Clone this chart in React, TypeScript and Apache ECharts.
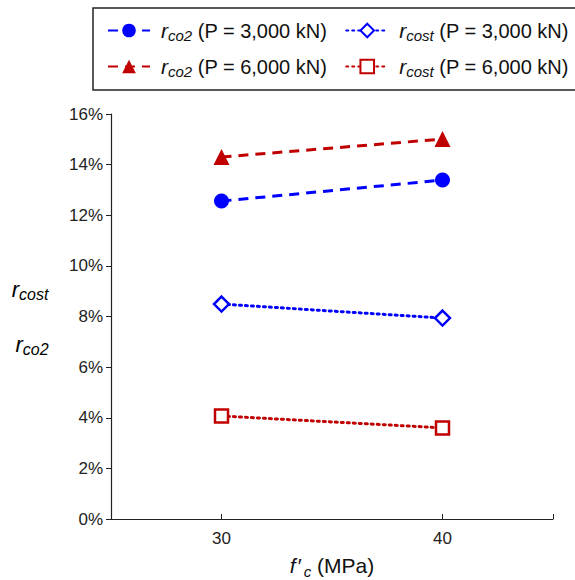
import React, { useEffect, useRef } from "react";
import * as echarts from "echarts";

const xValues = [30, 40];
const xLabelTicks = [30, 40];
const xTickValues = [30, 40, 45];
const rco2P3000 = [0.1256, 0.1339];
const rco2P6000 = [0.143, 0.1501];
const rcostP3000 = [0.0849, 0.0794];
const rcostP6000 = [0.0407, 0.036];

const BLUE = "#0000FF";
const RED = "#C00000";
const FONT = "Liberation Sans, Arial, Helvetica, sans-serif";

const legendNames: Record<string, string> = {
  a: "{r|r}{s|co2}{t| (P = 3,000 kN)}",
  b: "{r|r}{s|cost}{t| (P = 3,000 kN)}",
  c: "{r|r}{s|co2}{t| (P = 6,000 kN)}",
  d: "{r|r}{s|cost}{t| (P = 6,000 kN)}",
};

const richLegend = {
  r: { fontStyle: "italic", fontSize: 21, fontFamily: FONT, color: "#111", padding: [0, 0, 0, 6] },
  s: { fontStyle: "italic", fontSize: 15, fontFamily: FONT, color: "#111", padding: [9, 0, 0, 0], verticalAlign: "bottom" },
  t: { fontSize: 20, fontFamily: FONT, color: "#111" },
};

const richYName = {
  r: { fontStyle: "italic", fontSize: 22, fontFamily: FONT, color: "#111" },
  s: { fontStyle: "italic", fontSize: 16, fontFamily: FONT, color: "#111", padding: [11, 0, 0, 0], verticalAlign: "bottom" },
};

const pairs = (ys: number[]) => xValues.map((x, i) => [x, ys[i]]);

export default function App() {
  const ref = useRef<HTMLDivElement>(null);
  useEffect(() => {
    if (!ref.current) return;
    const chart = echarts.init(ref.current, null, { renderer: "svg" });
    const legendCommon = {
      orient: "horizontal" as const,
      itemWidth: 42,
      itemHeight: 17,
      itemGap: 18,
      padding: 0,
      width: 520,
      formatter: (n: string) => legendNames[n],
      textStyle: { rich: richLegend },
      selectedMode: false,
    };
    chart.setOption({
      animation: false,
      textStyle: { fontFamily: FONT },
      grid: { left: 111, right: 22, top: 114, bottom: 61, outerBoundsMode: "none", containLabel: false },
      legend: [
        { ...legendCommon, left: 107, top: 20, data: ["a", "b"] },
        { ...legendCommon, left: 107, top: 56, data: ["c", "d"] },
      ],
      graphic: [
        {
          type: "rect",
          shape: { x: 93, y: 8, width: 490, height: 82 },
          style: { fill: "none", stroke: "#222", lineWidth: 1.5 },
        },
        {
          type: "text",
          x: 30,
          y: 289,
          style: { text: "{r|r}{s|cost}", rich: richYName, align: "center", verticalAlign: "middle" },
        },
        {
          type: "text",
          x: 32,
          y: 344,
          style: { text: "{r|r}{s|co2}", rich: richYName, align: "center", verticalAlign: "middle" },
        },
      ],
      xAxis: {
        type: "value",
        min: 25,
        max: 45,
        interval: 5,
        splitLine: { show: false },
        axisLine: { lineStyle: { color: "#222", width: 1.2 } },
        axisTick: { inside: true, length: 5, customValues: xTickValues, lineStyle: { color: "#222" } },
        axisLabel: { customValues: xLabelTicks, fontSize: 17, color: "#222", margin: 11, fontFamily: FONT },
        name: "{i|f}{p|′}{s|c}{t| (MPa)}",
        nameLocation: "middle",
        nameGap: 33,
        nameTextStyle: {
          rich: {
            i: { fontStyle: "italic", fontSize: 21, fontFamily: FONT, color: "#111" },
            p: { fontSize: 21, fontFamily: FONT, color: "#111", padding: [0, 2, 0, 2] },
            s: { fontStyle: "italic", fontSize: 15, fontFamily: FONT, color: "#111", padding: [12, 0, 0, 0], verticalAlign: "bottom" },
            t: { fontSize: 21, fontFamily: FONT, color: "#111" },
          },
        },
      },
      yAxis: {
        type: "value",
        min: 0,
        max: 0.16,
        interval: 0.02,
        splitLine: { show: false },
        axisLine: { show: true, lineStyle: { color: "#222", width: 1.2 } },
        axisTick: { show: true, length: 5, lineStyle: { color: "#222" } },
        axisLabel: {
          fontSize: 17,
          color: "#222",
          margin: 8,
          fontFamily: FONT,
          formatter: (v: number) => `${Math.round(v * 100)}%`,
        },
      },
      series: [
        {
          name: "a",
          type: "line",
          data: pairs(rco2P3000),
          symbol: "circle",
          symbolSize: 15,
          itemStyle: { color: BLUE },
          lineStyle: { color: BLUE, width: 3, type: [10, 7] },
        },
        {
          name: "b",
          type: "line",
          data: pairs(rcostP3000),
          symbol: "diamond",
          symbolSize: 15,
          itemStyle: { color: "#fff", borderColor: BLUE, borderWidth: 2.5 },
          lineStyle: { color: BLUE, width: 3, type: [2, 4], cap: "round" },
        },
        {
          name: "c",
          type: "line",
          data: pairs(rco2P6000),
          symbol: "triangle",
          symbolSize: 16,
          itemStyle: { color: RED },
          lineStyle: { color: RED, width: 3, type: [10, 7] },
        },
        {
          name: "d",
          type: "line",
          data: pairs(rcostP6000),
          symbol: "rect",
          symbolSize: 13,
          itemStyle: { color: "#fff", borderColor: RED, borderWidth: 2.5 },
          lineStyle: { color: RED, width: 3, type: [2, 4], cap: "round" },
        },
      ],
    });
    return () => chart.dispose();
  }, []);
  return <div ref={ref} style={{ position: "absolute", left: 0, top: 0, width: 575, height: 580 }} />;
}
